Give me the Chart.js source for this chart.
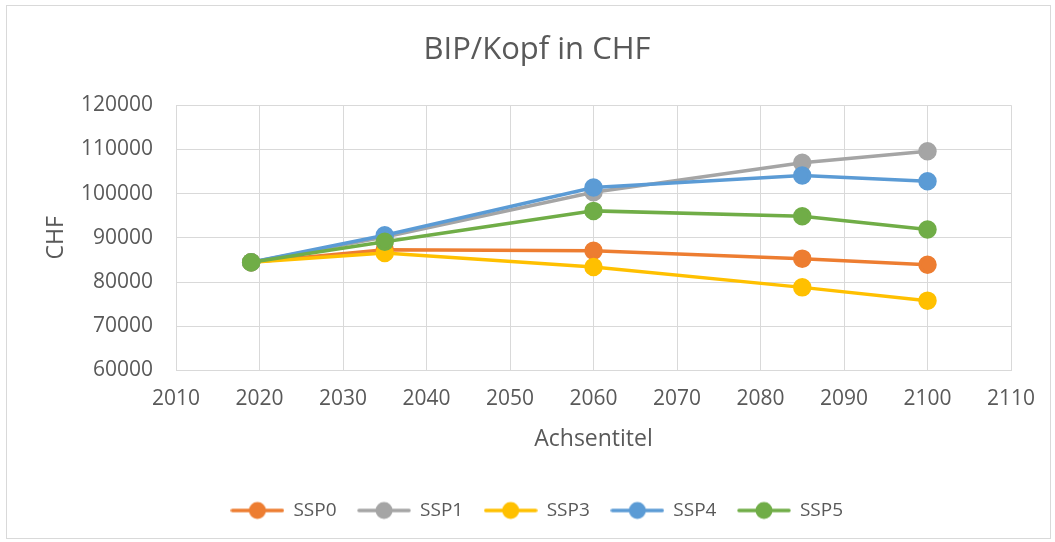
<!DOCTYPE html>
<html>
<head>
<meta charset="utf-8">
<script src="https://cdn.jsdelivr.net/npm/chart.js@4/dist/chart.umd.min.js"></script>
<style>
html,body{margin:0;padding:0;background:#fff;}
#wrap{width:1055px;height:542px;position:relative;}
</style>
</head>
<body>
<div id="wrap"><canvas id="c" width="1055" height="542"></canvas></div>
<script>
const years = [2019, 2035, 2060, 2085, 2100];
const seriesNames = ['SSP0', 'SSP1', 'SSP3', 'SSP4', 'SSP5'];
const ssp0 = [84500, 87300, 87100, 85300, 83900];
const ssp1 = [84500, 90200, 100300, 107000, 109600];
const ssp3 = [84500, 86600, 83400, 78800, 75800];
const ssp4 = [84500, 90600, 101400, 104100, 102800];
const ssp5 = [84500, 89100, 96100, 94900, 91900];
const colors = ['#ED7D31', '#A5A5A5', '#FFC000', '#5B9BD5', '#70AD47'];
const chartTitle = 'BIP/Kopf in CHF';
const xTitle = 'Achsentitel';
const yTitle = 'CHF';

const FONT = "'Open Sans', 'Noto Sans', sans-serif";
const TXT = '#595959';
const GRID = '#d9d9d9';

const allValues = [ssp0, ssp1, ssp3, ssp4, ssp5];

function legendIcon(color) {
  const cv = document.createElement('canvas');
  cv.width = 54; cv.height = 20;
  const g = cv.getContext('2d');
  g.strokeStyle = color; g.lineWidth = 3.5; g.lineCap = 'round';
  g.beginPath(); g.moveTo(2, 10); g.lineTo(52, 10); g.stroke();
  g.fillStyle = color;
  g.beginPath(); g.arc(27, 10, 8.5, 0, Math.PI * 2); g.fill();
  return cv;
}
const icons = colors.map(legendIcon);

const datasets = seriesNames.map((name, i) => ({
  label: name,
  data: years.map((y, j) => ({x: y, y: allValues[i][j]})),
  borderColor: colors[i],
  backgroundColor: colors[i],
  pointBackgroundColor: colors[i],
  pointBorderColor: colors[i],
  borderWidth: 3.5,
  pointRadius: 7.5,
  pointHoverRadius: 7.5,
  tension: 0,
  order: seriesNames.length - i
}));

const bgPlugin = {
  id: 'bg',
  beforeDraw(chart) {
    const c = chart.ctx;
    c.save();
    c.fillStyle = '#fff';
    c.fillRect(0, 0, chart.width, chart.height);
    c.strokeStyle = GRID;
    c.lineWidth = 1;
    c.strokeRect(6.5, 5.5, 1044, 533);
    c.restore();
  }
};

new Chart(document.getElementById('c'), {
  type: 'line',
  data: {datasets},
  plugins: [bgPlugin],
  options: {
    responsive: false,
    animation: false,
    events: [],
    layout: {padding: {top: 14, left: 63, right: 44, bottom: 12}},
    plugins: {
      title: {
        display: true,
        text: chartTitle,
        color: TXT,
        font: {family: FONT, size: 31, weight: 'normal'},
        padding: {top: 18, bottom: 36}
      },
      legend: {
        position: 'bottom',
        labels: {
          color: TXT,
          font: {family: FONT, size: 19},
          usePointStyle: true,
          pointStyleWidth: 53,
          boxHeight: 19,
          padding: 21,
          generateLabels(chart) {
            return seriesNames.map((n, i) => ({
              text: n,
              fillStyle: colors[i],
              strokeStyle: colors[i],
              fontColor: TXT,
              lineWidth: 0,
              pointStyle: icons[i],
              hidden: false,
              datasetIndex: i
            }));
          }
        }
      },
      tooltip: {enabled: false}
    },
    scales: {
      x: {
        type: 'linear',
        min: 2010,
        max: 2110,
        ticks: {
          stepSize: 10,
          color: TXT,
          font: {family: FONT, size: 21},
          padding: 16,
          maxRotation: 0,
          callback: v => String(v)
        },
        grid: {color: GRID, lineWidth: 1, drawTicks: false},
        border: {color: GRID},
        title: {
          display: true,
          text: xTitle,
          color: TXT,
          font: {family: FONT, size: 23},
          padding: {top: 0, bottom: 27}
        },
        afterFit(scale) { scale.height = 109.5; }
      },
      y: {
        min: 60000,
        max: 120000,
        ticks: {
          stepSize: 10000,
          color: TXT,
          font: {family: FONT, size: 21},
          padding: 23,
          callback: v => String(v)
        },
        grid: {color: GRID, lineWidth: 1, drawTicks: false},
        border: {color: GRID},
        title: {
          display: true,
          text: yTitle,
          color: TXT,
          font: {family: FONT, size: 23},
          padding: {top: -20, bottom: 0}
        },
        afterFit(scale) { scale.width = 113; }
      }
    }
  }
});
</script>
</body>
</html>
